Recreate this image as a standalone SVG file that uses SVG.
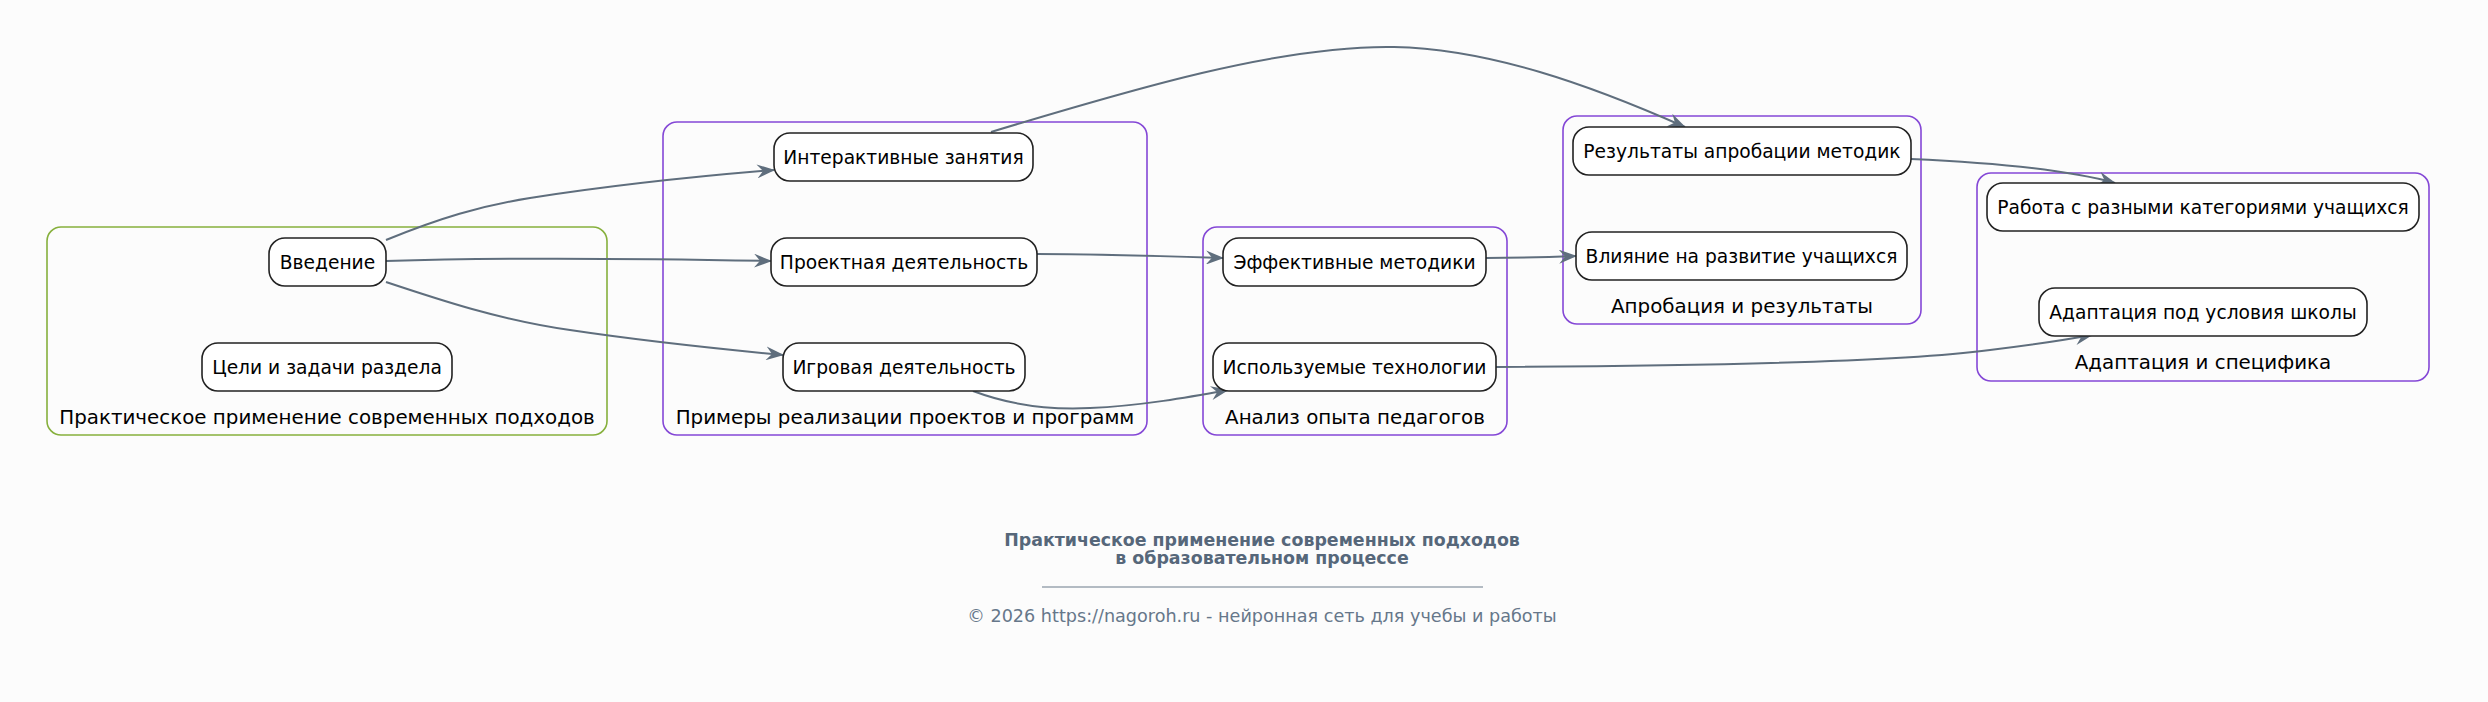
<svg xmlns="http://www.w3.org/2000/svg" width="2488" height="702" viewBox="0 0 2488 702">
<defs>
<style>
.bg{fill:#fcfcfc}
.cl{fill:none;stroke-width:1.6}
.g{stroke:#86b03c}
.p{stroke:#8447d6}
.nd{fill:#ffffff;stroke:#222222;stroke-width:1.6}
.t{font-family:"DejaVu Sans",Verdana,sans-serif;font-size:18.67px;fill:#000000;text-anchor:middle}
.ct{font-family:"DejaVu Sans",Verdana,sans-serif;font-size:19.85px;fill:#000000;text-anchor:middle}
.e{fill:none;stroke:#5f6e7d;stroke-width:2}
.ttl{font-family:"DejaVu Sans",Verdana,sans-serif;font-size:17.4px;font-weight:bold;fill:#56677a;text-anchor:middle}
.ft{font-family:"DejaVu Sans",Verdana,sans-serif;font-size:17.6px;fill:#66778a;text-anchor:middle}
</style>
<marker id="arr" viewBox="0 0 18 14" refX="17" refY="7" markerWidth="18" markerHeight="14" markerUnits="userSpaceOnUse" orient="auto">
<path d="M0,0 L18,7 L0,14 L6,7 z" fill="#5f6e7d"/>
</marker>
</defs>
<rect class="bg" x="0" y="0" width="2488" height="702"/>

<g id="cluster_practical">
<rect class="cl g" x="47" y="227" width="560" height="208" rx="14"/>
<text class="ct" x="327" y="424">Практическое применение современных подходов</text>
</g>
<g id="cluster_examples">
<rect class="cl p" x="663" y="122" width="484" height="313" rx="14"/>
<text class="ct" x="905" y="424">Примеры реализации проектов и программ</text>
</g>
<g id="cluster_analysis">
<rect class="cl p" x="1203" y="227" width="304" height="208" rx="14"/>
<text class="ct" x="1355" y="424">Анализ опыта педагогов</text>
</g>
<g id="cluster_approbation">
<rect class="cl p" x="1563" y="116" width="358" height="208" rx="14"/>
<text class="ct" x="1742" y="313">Апробация и результаты</text>
</g>
<g id="cluster_adaptation">
<rect class="cl p" x="1977" y="173" width="452" height="208" rx="14"/>
<text class="ct" x="2203" y="369">Адаптация и специфика</text>
</g>

<g id="connectors">
<path class="e" marker-end="url(#arr)" d="M386,240 C440,218 480,206 530,198 C620,184 700,176 774,170"/>
<path class="e" marker-end="url(#arr)" d="M386,261 C480,258 620,258 771,261"/>
<path class="e" marker-end="url(#arr)" d="M386,282 C440,300 500,320 570,330 C650,342 720,349 783,355"/>
<path class="e" marker-end="url(#arr)" d="M991,132 C1130,90 1280,45 1394,47 C1490,49 1590,85 1685,127"/>
<path class="e" marker-end="url(#arr)" d="M1037,254 C1100,254 1160,256 1223,258"/>
<path class="e" marker-end="url(#arr)" d="M973,391 C1010,405 1050,410 1090,408 C1140,406 1190,397 1228,390"/>
<path class="e" marker-end="url(#arr)" d="M1486,258 C1520,258 1550,257 1576,256"/>
<path class="e" marker-end="url(#arr)" d="M1496,367 C1700,366 1900,362 1990,350 C2040,344 2070,339 2092,335"/>
<path class="e" marker-end="url(#arr)" d="M1911,159 C1980,162 2060,168 2115,183"/>
</g>

<g id="n_intro">
<rect class="nd" x="269" y="238" width="117" height="48" rx="16"/>
<text class="t" x="327.5" y="268.5">Введение</text>
</g>
<g id="n_goals">
<rect class="nd" x="202" y="343" width="250" height="48" rx="16"/>
<text class="t" x="327" y="373.5">Цели и задачи раздела</text>
</g>
<g id="n_interactive">
<rect class="nd" x="774" y="133" width="259" height="48" rx="16"/>
<text class="t" x="903.5" y="163.5">Интерактивные занятия</text>
</g>
<g id="n_project">
<rect class="nd" x="771" y="238" width="266" height="48" rx="16"/>
<text class="t" x="904" y="268.5">Проектная деятельность</text>
</g>
<g id="n_game">
<rect class="nd" x="783" y="343" width="242" height="48" rx="16"/>
<text class="t" x="904" y="373.5">Игровая деятельность</text>
</g>
<g id="n_effective">
<rect class="nd" x="1223" y="238" width="263" height="48" rx="16"/>
<text class="t" x="1354.5" y="268.5">Эффективные методики</text>
</g>
<g id="n_tech">
<rect class="nd" x="1213" y="343" width="283" height="48" rx="16"/>
<text class="t" x="1354.5" y="373.5">Используемые технологии</text>
</g>
<g id="n_results">
<rect class="nd" x="1573" y="127" width="338" height="48" rx="16"/>
<text class="t" x="1742" y="157.5">Результаты апробации методик</text>
</g>
<g id="n_influence">
<rect class="nd" x="1576" y="232" width="331" height="48" rx="16"/>
<text class="t" x="1741.5" y="262.5">Влияние на развитие учащихся</text>
</g>
<g id="n_categories">
<rect class="nd" x="1987" y="183" width="432" height="48" rx="16"/>
<text class="t" x="2203" y="213.5">Работа с разными категориями учащихся</text>
</g>
<g id="n_school">
<rect class="nd" x="2039" y="288" width="328" height="48" rx="16"/>
<text class="t" x="2203" y="318.5">Адаптация под условия школы</text>
</g>

<g id="caption">
<text class="ttl" x="1262" y="546">Практическое применение современных подходов</text>
<text class="ttl" x="1262" y="564">в образовательном процессе</text>
<line x1="1042" y1="587" x2="1483" y2="587" stroke="#6a7a8a" stroke-width="1"/>
<text class="ft" x="1262" y="622">© 2026 https://nagoroh.ru - нейронная сеть для учебы и работы</text>
</g>
</svg>
